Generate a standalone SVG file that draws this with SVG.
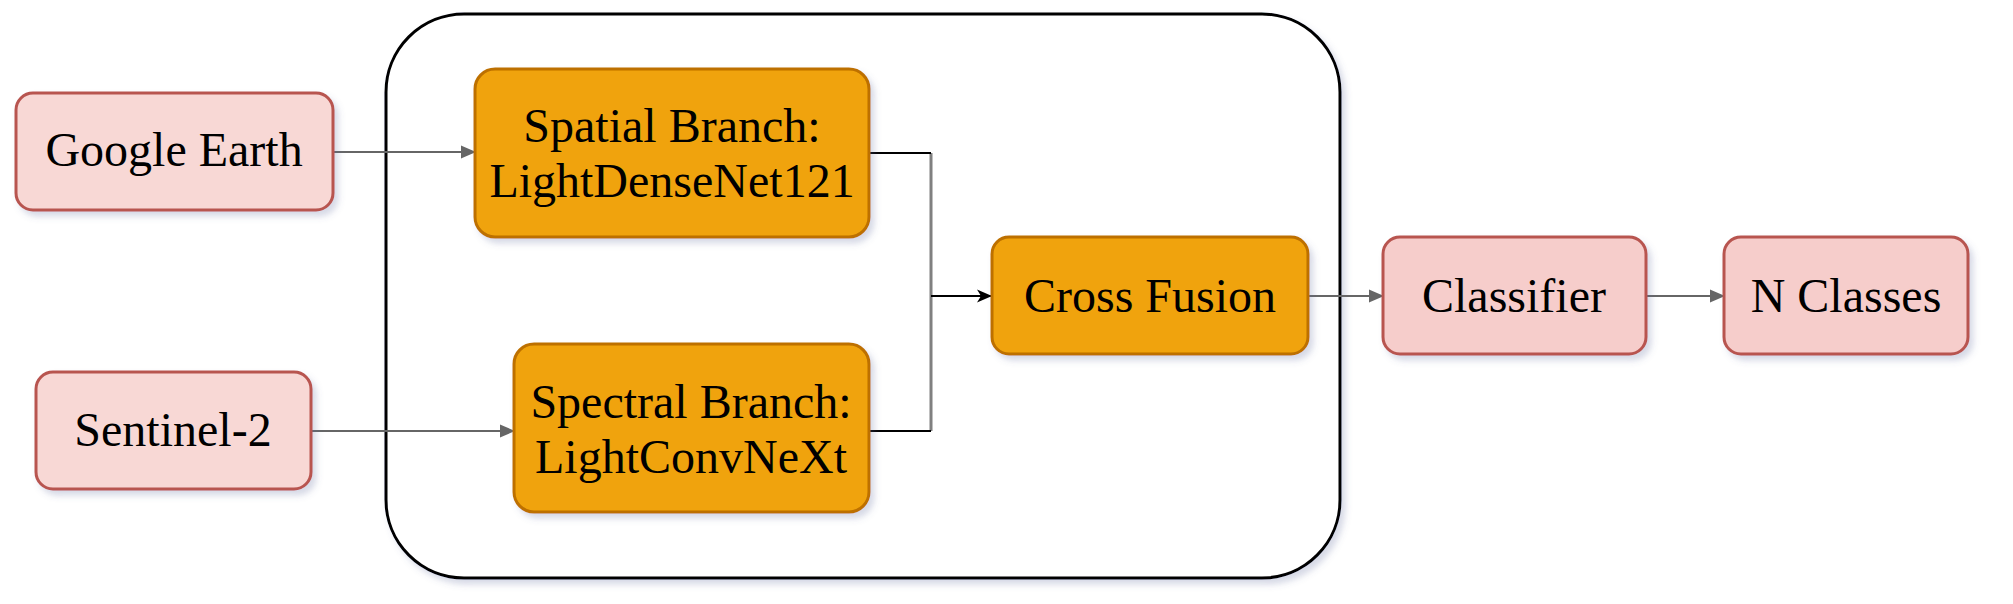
<svg xmlns="http://www.w3.org/2000/svg" width="2013" height="604" viewBox="0 0 2013 604">
<style>
.pink{fill:#f8d8d5;stroke:#b85450;stroke-width:3}
.pink2{fill:#f6cdcb;stroke:#b85450;stroke-width:3}
.orange{fill:#f0a30a;stroke:#bd7000;stroke-width:3}
.lbl{font-family:"Liberation Serif","Times New Roman",serif;font-size:48px;fill:#000;text-anchor:middle}
.conn{fill:none;stroke:#666;stroke-width:1.8}
.connd{fill:none;stroke:#000;stroke-width:2}
.connv{fill:none;stroke:#808080;stroke-width:3}
</style>
<defs>
<filter id="sh" x="-10%" y="-10%" width="130%" height="140%">
<feDropShadow dx="4" dy="5" stdDeviation="3" flood-color="#5a6a9a" flood-opacity="0.25"/>
</filter>
<marker id="ag" markerUnits="userSpaceOnUse" markerWidth="16" markerHeight="16" refX="14" refY="8" orient="auto">
<path d="M0,1.5 L15,8 L0,14.5 z" fill="#666"/>
</marker>
<marker id="ab" markerUnits="userSpaceOnUse" markerWidth="16" markerHeight="16" refX="14" refY="8" orient="auto">
<path d="M0,1.5 L15,8 L0,14.5 L4,8 z" fill="#000"/>
</marker>
</defs>
<rect width="2013" height="604" fill="#fff"/>
<g id="container">
<rect x="386" y="14" width="954" height="564" rx="78" ry="78" fill="#fff" stroke="#000" stroke-width="3" filter="url(#sh)"/>
</g>
<g id="connectors">
<path class="conn" d="M332,152 L475,152" marker-end="url(#ag)"/>
<path class="conn" d="M311,431 L514,431" marker-end="url(#ag)"/>
<path class="connv" d="M931,153 L931,431"/>
<path class="connd" d="M869,153 L931,153"/>
<path class="connd" d="M869,431 L931,431"/>
<path class="connd" d="M931,296 L991,296" marker-end="url(#ab)"/>
<path class="conn" d="M1308,296 L1383,296" marker-end="url(#ag)"/>
<path class="conn" d="M1646,296 L1724,296" marker-end="url(#ag)"/>
</g>
<g id="google-earth">
<rect class="pink" x="16" y="93" width="317" height="117" rx="17" filter="url(#sh)"/>
<text class="lbl" x="174" y="166">Google Earth</text>
</g>
<g id="sentinel-2">
<rect class="pink" x="36" y="372" width="275" height="117" rx="17" filter="url(#sh)"/>
<text class="lbl" x="173" y="446">Sentinel-2</text>
</g>
<g id="spatial-branch">
<rect class="orange" x="475" y="69" width="394" height="168" rx="20" filter="url(#sh)"/>
<text class="lbl" x="672" y="142">Spatial Branch:</text>
<text class="lbl" x="672" y="197">LightDenseNet121</text>
</g>
<g id="spectral-branch">
<rect class="orange" x="514" y="344" width="355" height="168" rx="20" filter="url(#sh)"/>
<text class="lbl" x="691" y="418">Spectral Branch:</text>
<text class="lbl" x="691" y="473">LightConvNeXt</text>
</g>
<g id="cross-fusion">
<rect class="orange" x="992" y="237" width="316" height="117" rx="17" filter="url(#sh)"/>
<text class="lbl" x="1150" y="312">Cross Fusion</text>
</g>
<g id="classifier">
<rect class="pink2" x="1383" y="237" width="263" height="117" rx="17" filter="url(#sh)"/>
<text class="lbl" x="1514" y="312">Classifier</text>
</g>
<g id="n-classes">
<rect class="pink2" x="1724" y="237" width="244" height="117" rx="17" filter="url(#sh)"/>
<text class="lbl" x="1846" y="312">N Classes</text>
</g>
</svg>
